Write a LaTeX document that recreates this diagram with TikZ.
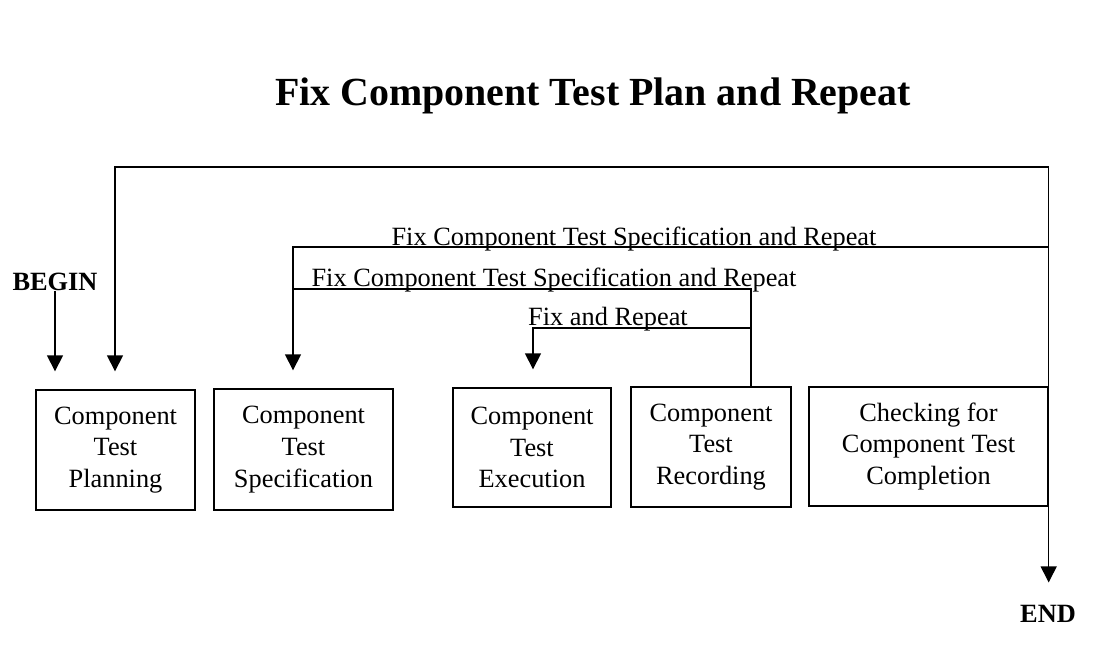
\documentclass[tikz,border=0pt]{standalone}
\usepackage{fontspec}
\setmainfont{Liberation Serif}
\usetikzlibrary{arrows.meta}

\tikzset{
  stage/.style={draw, line width=0.8pt, align=center, inner sep=0pt,
    font=\fontsize{15}{18}\selectfont},
  flow/.style={line width=0.8pt, -{Triangle[width=0.32cm,length=0.32cm]},
    shorten >=0.36cm},
  link/.style={line width=0.8pt},
  lbl/.style={anchor=base, inner sep=0pt, font=\fontsize{15}{17}\selectfont},
  bold lbl/.style={lbl, font=\bfseries\fontsize{15}{17}\selectfont},
}

\begin{document}
\begin{tikzpicture}[x=0.02cm, y=-0.02cm]
  \useasboundingbox (0,0) rectangle (1096,654);

  % title
  \node[lbl, font=\bfseries\fontsize{22.7}{27}\selectfont] (title) at (593,105)
    {Fix Component Test Plan and Repeat};

  % the five stages
  \node[stage, minimum width=3.18cm, minimum height=2.40cm] (plan)  at (115.5,450)
    {Component\\Test\\Planning};
  \node[stage, minimum width=3.58cm, minimum height=2.42cm] (spec)  at (303.5,449.5)
    {Component\\Test\\Specification};
  \node[stage, minimum width=3.16cm, minimum height=2.38cm] (exec)  at (532,447.5)
    {Component\\Test\\Execution};
  \node[stage, minimum width=3.20cm, minimum height=2.40cm] (rec)   at (711,447)
    {Component\\Test\\Recording};
  \node[stage, minimum width=4.78cm, minimum height=2.38cm] (check) at (928.5,446.5)
    {Checking for\\Component Test\\Completion};

  % begin and end
  \node[bold lbl] (begin)  at (55,290) {BEGIN};
  \node[bold lbl] (finish) at (1048,622) {END};
  \draw[flow] (begin.south) -- (begin.south |- plan.north);
  \draw[flow, shorten >=0.44cm] (check.south east) -- (check.south east |- finish.north);

  % fix plan and repeat
  \coordinate (planfix) at (115,167);
  \draw[flow] (check.north east) |- (planfix) -- (planfix |- plan.north);

  % fix specification and repeat (from checking)
  \coordinate (specfix) at (293,247);
  \draw[flow] (check.north east |- specfix) -- (specfix) -- (specfix |- spec.north);
  \node[lbl] (specnote) at (634,245) {Fix Component Test Specification and Repeat};

  % fix specification and repeat (from recording)
  \coordinate (recfix) at (751,289);
  \draw[link] (recfix |- rec.north) -- (recfix) -- (specfix |- recfix);
  \node[lbl] (recnote) at (554,286) {Fix Component Test Specification and Repeat};

  % fix and repeat
  \coordinate (execfix) at (533,328);
  \draw[flow] (recfix |- execfix) -- (execfix) -- (execfix |- exec.north);
  \node[lbl] (execnote) at (608,325) {Fix and Repeat};

\end{tikzpicture}
\end{document}
